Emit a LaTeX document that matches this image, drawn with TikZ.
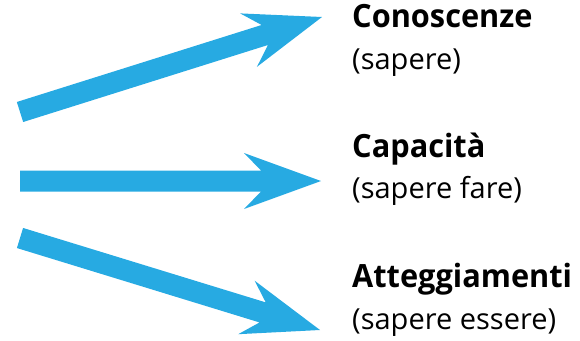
\documentclass[tikz,border=0pt]{standalone}
\usepackage{fontspec}
\setmainfont{Open Sans}[BoldFeatures={FakeStretch=0.96}]
\usetikzlibrary{calc}

\definecolor{arrowblue}{RGB}{39,170,226}

\tikzset{
  head/.style={font=\bfseries\fontsize{32}{38}\selectfont, anchor=base west, inner sep=0pt},
  sub/.style={font=\fontsize{29}{35}\selectfont, anchor=base west, inner sep=0pt},
}

% broad arrow with a swept-back head, from tail #1 to tip #2
\newcommand\broadarrow[2]{%
  \coordinate (#2-j) at ($(#2)!60pt!(#1)$);
  \coordinate (#2-b) at ($(#2)!77pt!(#1)$);
  \fill[arrowblue]
    ($(#1)!10.5pt!90:(#2)$) --
    ($(#2-j)!10.5pt!90:(#2)$) --
    ($(#2-b)!28pt!90:(#2)$) --
    (#2) --
    ($(#2-b)!28pt!-90:(#2)$) --
    ($(#2-j)!10.5pt!-90:(#2)$) --
    ($(#1)!10.5pt!-90:(#2)$) -- cycle;
}

\begin{document}
\begin{tikzpicture}[x=1pt, y=-1pt]
  \useasboundingbox (0,0) rectangle (580,340);

  % arrow ends
  \coordinate (t1) at (20,112);
  \coordinate (p1) at (322,17);
  \coordinate (t2) at (20,181);
  \coordinate (p2) at (321,181);
  \coordinate (t3) at (20,238);
  \coordinate (p3) at (320,330);

  \broadarrow{t1}{p1}
  \broadarrow{t2}{p2}
  \broadarrow{t3}{p3}

  % labels
  \node[head] (k1) at (352,27) {Conoscenze};
  \node[sub]  (s1) at (352,69) {(sapere)};
  \node[head] (k2) at (352,157) {Capacità};
  \node[sub]  (s2) at (352,198) {(sapere fare)};
  \node[head] (k3) at (352,287) {Atteggiamenti};
  \node[sub]  (s3) at (352,329) {(sapere essere)};
\end{tikzpicture}
\end{document}
